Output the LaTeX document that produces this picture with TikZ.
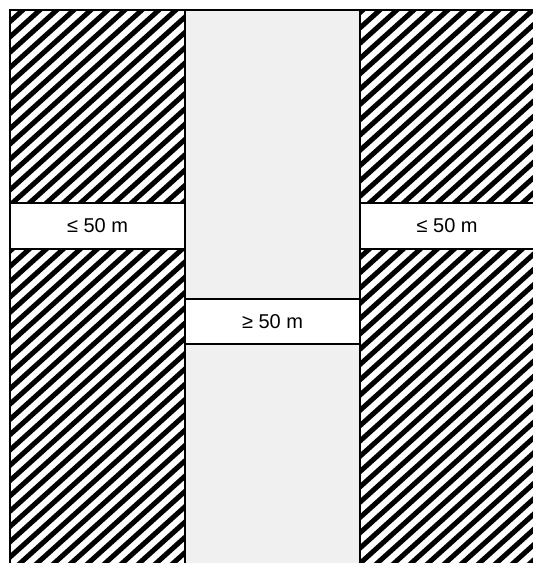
\documentclass[tikz,border=0pt]{standalone}
\usepackage{fontspec}
\setmainfont{Liberation Sans}
\definecolor{midgray}{HTML}{F0F0F0}
\tikzset{
  band/.style={draw=black, line width=1.3pt, fill=white, inner sep=0pt,
    font=\fontsize{20}{24}\selectfont},
  edge/.style={draw=black, line width=1.5pt},
  hatchline/.style={draw=black, line width=5pt}
}
\begin{document}
\begin{tikzpicture}[x=1pt,y=-1pt]
\useasboundingbox (0,0) rectangle (533,563);
\begin{scope}
\clip (0,0) rectangle (533,563);
% middle gray strip
\fill[midgray] (185,10) rectangle (360,570);
% left hatched block: lines rising to the right
\begin{scope}
\clip (10,10) rectangle (185,570);
\foreach \c in {0,17,...,850} {
  \draw[hatchline] (\c+50,-45) -- (\c-650,585);
}
\end{scope}
% right hatched block
\begin{scope}
\clip (360,10) rectangle (540,570);
\foreach \c in {340,357,...,1230} {
  \draw[hatchline] (\c+50,-45) -- (\c-650,585);
}
\end{scope}
% outline
\coordinate (tl) at (10,10);
\coordinate (tr) at (540,10);
\coordinate (bl) at (10,570);
\coordinate (m1t) at (185,10);
\coordinate (m1b) at (185,570);
\coordinate (m2t) at (360,10);
\coordinate (m2b) at (360,570);
\draw[edge] (bl) -- (tl) -- (tr);
\draw[edge] (m1t) -- (m1b);
\draw[edge] (m2t) -- (m2b);
% bands
\node[band, minimum width=175pt, minimum height=46pt] (leftband) at (97.5,226) {≤ 50 m};
\node[band, minimum width=185pt, minimum height=46pt, anchor=west] (rightband) at (360,226) {\hspace*{-12pt}≤ 50 m};
\node[band, minimum width=175pt, minimum height=45pt] (midband) at (272.5,321.5) {≥ 50 m};
\end{scope}
\end{tikzpicture}
\end{document}
